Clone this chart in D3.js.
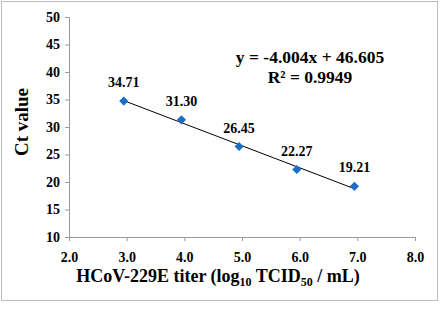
<!DOCTYPE html>
<html>
<head>
<meta charset="utf-8">
<script src="https://cdn.jsdelivr.net/npm/d3@7"></script>
<style>
  body { margin: 0; background: #fff; }
  text { font-family: "Liberation Serif", "Times New Roman", serif; font-weight: bold; }
</style>
</head>
<body>
<div id="chart"></div>
<script>
const titers = [2.95, 3.95, 4.95, 5.95, 6.95]
const ctValues = [34.71, 31.30, 26.45, 22.27, 19.21]
const ctLabels = ["34.71", "31.30", "26.45", "22.27", "19.21"]
const xTicks = [2, 3, 4, 5, 6, 7, 8]
const yTicks = [10, 15, 20, 25, 30, 35, 40, 45, 50]
const slope = -4.004
const intercept = 46.605

const width = 440
const height = 312
const margin = { top: 17, right: 25, bottom: 75, left: 69 }

let svg = d3.select("#chart").append("svg")
    .attr("width", width)
    .attr("height", height)

// outer frame
svg.append("rect")
    .attr("x", 1.5).attr("y", 1.5)
    .attr("width", 436).attr("height", 299)
    .attr("fill", "none")
    .attr("stroke", "#bdbdbd")

let xScale = d3.scaleLinear().domain([2, 8]).range([margin.left, width - margin.right])
let yScale = d3.scaleLinear().domain([10, 50]).range([height - margin.bottom, margin.top])

let xAxis = d3.axisBottom(xScale).tickValues(xTicks).tickFormat(d3.format(".1f")).tickSize(4)
let yAxis = d3.axisLeft(yScale).tickValues(yTicks).tickFormat(d3.format("d")).tickSize(4)

let gx = svg.append("g")
    .attr("transform", `translate(0, ${yScale(10)})`)
    .call(xAxis)
gx.attr("font-size", null).attr("font-family", null)
gx.selectAll("text").style("font-size", "14px").attr("fill", "#000").attr("dy", "1.3em")

let gy = svg.append("g")
    .attr("transform", `translate(${xScale(2)}, 0)`)
    .call(yAxis)
gy.attr("font-size", null).attr("font-family", null)
gy.selectAll("text").style("font-size", "14px").attr("fill", "#000").attr("x", -9)

svg.selectAll(".domain, .tick line").attr("stroke", "#9a9a9a")

// trend line over data range
let xMin = d3.min(titers), xMax = d3.max(titers)
svg.append("line")
    .attr("x1", xScale(xMin)).attr("y1", yScale(slope * xMin + intercept))
    .attr("x2", xScale(xMax)).attr("y2", yScale(slope * xMax + intercept))
    .attr("stroke", "#000")
    .attr("stroke-width", 1)

let pts = titers.map((t, i) => ({ x: t, y: ctValues[i], label: ctLabels[i] }))

svg.append("g").selectAll("path")
    .data(pts)
    .enter()
    .append("path")
    .attr("d", d3.symbol().type(d3.symbolSquare).size(42))
    .attr("transform", d => `translate(${xScale(d.x)}, ${yScale(d.y)}) rotate(45)`)
    .attr("fill", "#1a6fc4")

svg.append("g").selectAll("text")
    .data(pts)
    .enter()
    .append("text")
    .attr("x", d => xScale(d.x))
    .attr("y", d => yScale(d.y) - 14)
    .attr("text-anchor", "middle")
    .style("font-size", "14px")
    .text(d => d.label)

// equation
svg.append("text")
    .attr("x", 310).attr("y", 63)
    .attr("text-anchor", "middle")
    .style("font-size", "17.5px")
    .text("y = -4.004x + 46.605")
svg.append("text")
    .attr("x", 310).attr("y", 83)
    .attr("text-anchor", "middle")
    .style("font-size", "17.5px")
    .text("R² = 0.9949")

// axis titles
svg.append("text")
    .attr("transform", "translate(28, 122) rotate(-90)")
    .attr("text-anchor", "middle")
    .style("font-size", "19px")
    .text("Ct value")

let xt = svg.append("text")
    .attr("x", 218).attr("y", 282)
    .attr("text-anchor", "middle")
    .style("font-size", "18px")
xt.append("tspan").text("HCoV-229E titer (log")
xt.append("tspan").style("font-size", "12px").attr("dy", 4).text("10")
xt.append("tspan").attr("dy", -4).text(" TCID")
xt.append("tspan").style("font-size", "12px").attr("dy", 4).text("50")
xt.append("tspan").attr("dy", -4).text(" / mL)")
</script>
</body>
</html>
